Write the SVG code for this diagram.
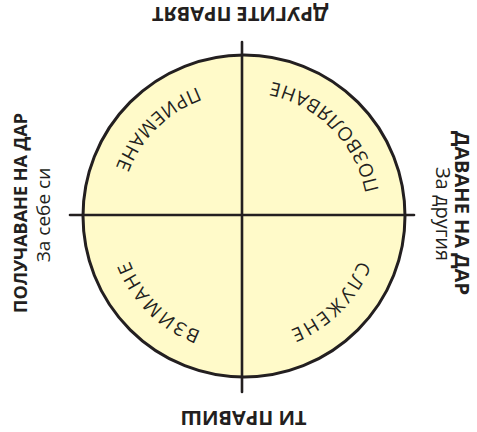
<svg xmlns="http://www.w3.org/2000/svg" width="477" height="432" viewBox="0 0 477 432">
<style>
.b{font-family:"Open Sans","Noto Sans","Liberation Sans",sans-serif;font-weight:700;font-size:18px;fill:#231f20}
.bt{font-family:"Open Sans","Noto Sans","Liberation Sans",sans-serif;font-weight:700;font-size:20px;fill:#231f20}
.r{font-family:"Open Sans","Noto Sans","Liberation Sans",sans-serif;font-weight:400;font-size:19px;fill:#231f20}
.rr{font-family:"Open Sans","Noto Sans","Liberation Sans",sans-serif;font-weight:400;font-size:20px;fill:#231f20}
.q{font-family:"Open Sans","Noto Sans","Liberation Sans",sans-serif;font-weight:400;font-size:19px;fill:#231f20;letter-spacing:2px}
.ln{stroke:#231f20;stroke-width:2.6;fill:none;stroke-linecap:round}
</style>
<defs>
<path id="pTL" d="M244,79 A137,137 0 0 0 107,216"/>
<path id="pTR" d="M381,216 A137,137 0 0 0 244,79"/>
<path id="pBL" d="M244,339 A123,123 0 0 1 121,216"/>
<path id="pBR" d="M367,216 A123,123 0 0 1 244,339"/>
</defs>
<rect width="477" height="432" fill="#ffffff"/>
<g id="circle">
<circle cx="244" cy="216" r="161" fill="#fffac9" stroke="#231f20" stroke-width="3"/>
</g>
<g id="connectors">
<line class="ln" x1="242" y1="42" x2="242" y2="392"/>
<line class="ln" x1="70" y1="215" x2="414" y2="215"/>
</g>
<g id="q-priemane"><text class="q"><textPath href="#pTL" startOffset="50%" text-anchor="middle">ПРИЕМАНЕ</textPath></text></g>
<g id="q-pozvolyavane"><text class="q"><textPath href="#pTR" startOffset="50%" text-anchor="middle">ПОЗВОЛЯВАНЕ</textPath></text></g>
<g id="q-vzimane"><text class="q"><textPath href="#pBL" startOffset="50%" text-anchor="middle">ВЗИМАНЕ</textPath></text></g>
<g id="q-sluzhene"><text class="q"><textPath href="#pBR" startOffset="50%" text-anchor="middle">СЛУЖЕНЕ</textPath></text></g>
<g id="label-top"><text class="bt" text-anchor="middle" transform="translate(240,7) rotate(180)">ДРУГИТЕ ПРАВЯТ</text></g>
<g id="label-bottom"><text class="bt" text-anchor="middle" transform="translate(243.5,411) rotate(180)">ТИ ПРАВИШ</text></g>
<g id="label-left">
<text class="b" text-anchor="middle" transform="translate(27,213) rotate(-90)">ПОЛУЧАВАНЕ НА ДАР</text>
<text class="r" text-anchor="middle" transform="translate(50,215) rotate(-90)">За себе си</text>
</g>
<g id="label-right">
<text class="bt" text-anchor="middle" transform="translate(455,213) rotate(90)">ДАВАНЕ НА ДАР</text>
<text class="rr" text-anchor="middle" transform="translate(436,214) rotate(90)">За другия</text>
</g>
</svg>
